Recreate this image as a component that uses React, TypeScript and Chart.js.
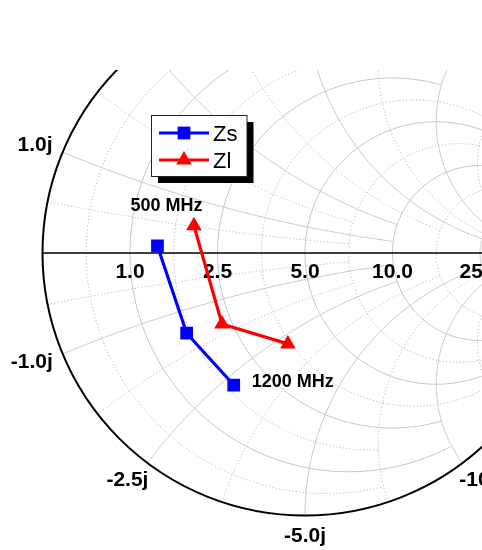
import React, { useEffect, useRef } from 'react';
import { Chart, registerables } from 'chart.js';

Chart.register(...registerables);

// ---------- data ----------
const Z0 = 5;
const resistanceTicks = [1, 2.5, 5, 10, 25];
const resistanceTickLabels = ['1.0', '2.5', '5.0', '10.0', '25.0'];
const reactanceTicks = [1, 2.5, 5, 10, 25];
const reactanceTickLabelsPos = ['1.0j', '2.5j', '5.0j', '10.0j', '25.0j'];
const reactanceTickLabelsNeg = ['-1.0j', '-2.5j', '-5.0j', '-10.0j', '-25.0j'];

const seriesNames = ['Zs', 'Zl'];
const frequenciesMHz = [500, 850, 1200];
const zsReal = [1.4, 1.6, 1.8];
const zsImag = [0.11, -1.39, -2.69];
const zlReal = [1.99, 2.29, 3.49];
const zlImag = [0.51, -1.5, -2.76];

const annotationTexts = ['500 MHz', '1200 MHz'];
const annotationSeries = [1, 0];
const annotationPoint = [0, 2];

// ---------- helpers ----------
const gammaN = (r: number, x: number) => {
  const d = (r + 1) * (r + 1) + x * x;
  return { x: (r * r - 1 + x * x) / d, y: (2 * x) / d };
};
const gammaZ = (R: number, X: number) => gammaN(R / Z0, X / Z0);

// Γ-plane midpoints between ticks (minor grid)
const rFromG = (g: number) => (1 + g) / (1 - g);
const majorN = resistanceTicks.map((v) => v / Z0);
const gAxis = [-1, ...majorN.map((r) => (r - 1) / (r + 1)), 1];
const minorR: number[] = [];
for (let i = 0; i < gAxis.length - 1; i++) minorR.push(rFromG((gAxis[i] + gAxis[i + 1]) / 2));
const atMaj = [0, ...reactanceTicks.map((v) => Math.atan(v / Z0)), Math.PI / 2];
const minorX: number[] = [];
for (let i = 0; i < atMaj.length - 1; i++) minorX.push(Math.tan((atMaj[i] + atMaj[i + 1]) / 2));

const INF = Infinity;
const majorRLimit = [2, 2, INF, INF, INF];
const majorXLimit = [2, 2, INF, INF, INF];
const minorRLimit = [minorX[3], minorX[3], minorX[4], INF, INF, INF];
const minorXLimit = [minorR[3], minorR[3], minorR[4], INF, INF, INF];

const FONT = "'Liberation Sans', Arial, Helvetica, sans-serif";
const CX = 305;
const CY = 253;
const RAD = 262.5;
const W = 482;
const H = 550;
const TOP = 70;

function buildPoints(re: number[], im: number[]) {
  return re.map((r, i) => {
    const g = gammaZ(r, im[i]);
    return { x: g.x, y: g.y };
  });
}

const smithPlugin = {
  id: 'smithGrid',
  beforeDatasetsDraw(chart: any) {
    const ctx = chart.ctx as CanvasRenderingContext2D;
    const xs = chart.scales.x;
    const ys = chart.scales.y;
    const px = (g: { x: number; y: number }) => [xs.getPixelForValue(g.x), ys.getPixelForValue(g.y)];
    const N = 360;
    const strokePts = (pts: { x: number; y: number }[]) => {
      ctx.beginPath();
      pts.forEach((p, i) => {
        const [a, b] = px(p);
        if (i === 0) ctx.moveTo(a, b);
        else ctx.lineTo(a, b);
      });
      ctx.stroke();
    };
    const rLine = (r: number, xm: number) => {
      const c = r / (1 + r);
      const rho = 1 / (1 + r);
      let p1 = 0.0005;
      if (isFinite(xm)) {
        const g = gammaN(r, xm);
        p1 = Math.atan2(g.y, g.x - c);
      }
      const p2 = 2 * Math.PI - p1;
      const pts = [];
      for (let i = 0; i <= N; i++) {
        const p = p1 + ((p2 - p1) * i) / N;
        pts.push({ x: c + rho * Math.cos(p), y: rho * Math.sin(p) });
      }
      strokePts(pts);
    };
    const xLine = (x: number, rm: number) => {
      const cy = 1 / x;
      const rho = Math.abs(1 / x);
      const g0 = gammaN(0, x);
      const g1 = isFinite(rm) ? gammaN(rm, x) : { x: 1, y: 0 };
      const a0 = Math.atan2(g0.y - cy, g0.x - 1);
      const a1 = Math.atan2(g1.y - cy, g1.x - 1);
      let d = a1 - a0;
      while (d > Math.PI) d -= 2 * Math.PI;
      while (d <= -Math.PI) d += 2 * Math.PI;
      const pts = [];
      for (let i = 0; i <= N; i++) {
        const a = a0 + (d * i) / N;
        pts.push({ x: 1 + rho * Math.cos(a), y: cy + rho * Math.sin(a) });
      }
      strokePts(pts);
    };

    ctx.save();
    ctx.beginPath();
    ctx.rect(0, TOP, W, H - TOP);
    ctx.clip();

    // minor grid
    ctx.setLineDash([1.2, 2.2]);
    ctx.strokeStyle = '#b8b8b8';
    ctx.lineWidth = 1;
    minorR.forEach((r, i) => rLine(r, minorRLimit[i]));
    minorX.forEach((x, i) => {
      xLine(x, minorXLimit[i]);
      xLine(-x, minorXLimit[i]);
    });

    // major grid
    ctx.setLineDash([]);
    ctx.strokeStyle = '#c4c4c4';
    ctx.lineWidth = 1;
    majorN.forEach((r, i) => rLine(r, majorRLimit[i]));
    reactanceTicks.forEach((X, i) => {
      xLine(X / Z0, majorXLimit[i]);
      xLine(-X / Z0, majorXLimit[i]);
    });

    // outer circle and real axis
    ctx.strokeStyle = '#000';
    ctx.lineWidth = 2;
    const [ox, oy] = px({ x: 0, y: 0 });
    const rr = xs.getPixelForValue(1) - ox;
    ctx.beginPath();
    ctx.arc(ox, oy, rr, 0, Math.PI * 2);
    ctx.stroke();
    ctx.lineWidth = 1.6;
    ctx.beginPath();
    ctx.moveTo(xs.getPixelForValue(-1), oy);
    ctx.lineTo(xs.getPixelForValue(1), oy);
    ctx.stroke();

    // tick labels
    ctx.fillStyle = '#000';
    ctx.font = `bold 21px ${FONT}`;
    ctx.textAlign = 'center';
    ctx.textBaseline = 'alphabetic';
    const cap = 15;
    resistanceTicks.forEach((R, i) => {
      const g = gammaZ(R, 0);
      ctx.fillText(resistanceTickLabels[i], xs.getPixelForValue(g.x), oy + 17 + cap / 2);
    });
    const jLabel = (X: number, text: string) => {
      const g = gammaZ(0, X);
      const dx = g.x;
      const dy = -g.y;
      const ax = ox + dx * (rr + 12.5);
      const ay = oy + dy * (rr + 12.5);
      const w = ctx.measureText(text).width;
      const cx = ax + (dx * w) / 2;
      const cyy = ay + (dy * cap) / 2;
      ctx.fillText(text, cx, cyy + cap / 2 - 1);
    };
    reactanceTicks.forEach((X, i) => {
      jLabel(X, reactanceTickLabelsPos[i]);
      jLabel(-X, reactanceTickLabelsNeg[i]);
    });
    ctx.restore();
  },
  afterDraw(chart: any) {
    const ctx = chart.ctx as CanvasRenderingContext2D;
    ctx.save();
    // annotations
    ctx.fillStyle = '#000';
    ctx.font = `bold 18px ${FONT}`;
    ctx.textBaseline = 'alphabetic';
    annotationTexts.forEach((t, i) => {
      const el = chart.getDatasetMeta(annotationSeries[i]).data[annotationPoint[i]];
      if (!el) return;
      if (i === 0) {
        ctx.textAlign = 'center';
        ctx.fillText(t, el.x - 27.5, el.y - 21.5 + 6.5);
      } else {
        ctx.textAlign = 'left';
        ctx.fillText(t, el.x + 18, el.y - 5 + 6.5);
      }
    });

    // legend
    const lx = 151.5;
    const ly = 115.5;
    const lw = 95.5;
    const lh = 61;
    ctx.fillStyle = '#000';
    ctx.fillRect(lx + 6.5, ly + 6.5, lw, lh);
    ctx.fillStyle = '#fff';
    ctx.fillRect(lx, ly, lw, lh);
    ctx.strokeStyle = '#222';
    ctx.lineWidth = 1;
    ctx.strokeRect(lx, ly, lw, lh);
    chart.data.datasets.forEach((ds: any, i: number) => {
      const y = 133 + i * 27;
      ctx.strokeStyle = ds.borderColor;
      ctx.lineWidth = 3;
      ctx.beginPath();
      ctx.moveTo(159, y);
      ctx.lineTo(209, y);
      ctx.stroke();
      ctx.fillStyle = ds.backgroundColor;
      const mx = 184;
      if (ds.pointStyle === 'rect') {
        const s = 12.7;
        ctx.fillRect(mx - s / 2, y - s / 2, s, s);
      } else {
        const r = 9;
        ctx.beginPath();
        ctx.moveTo(mx, y - r);
        ctx.lineTo(mx + r * 0.866, y + r / 2);
        ctx.lineTo(mx - r * 0.866, y + r / 2);
        ctx.closePath();
        ctx.fill();
      }
      ctx.fillStyle = '#000';
      ctx.font = `22px ${FONT}`;
      ctx.textAlign = 'left';
      ctx.fillText(ds.label, 213, y + 8);
    });
    ctx.restore();
  },
};

export default function App() {
  const ref = useRef<HTMLCanvasElement>(null);
  useEffect(() => {
    const canvas = ref.current;
    if (!canvas) return;
    const chart = new Chart(canvas, {
      type: 'scatter',
      data: {
        datasets: [
          {
            label: seriesNames[0],
            data: buildPoints(zsReal, zsImag),
            showLine: true,
            borderColor: '#0000ff',
            backgroundColor: '#0000ff',
            borderWidth: 3.2,
            pointStyle: 'rect',
            pointRadius: 9,
            pointBorderWidth: 0,
          },
          {
            label: seriesNames[1],
            data: buildPoints(zlReal, zlImag),
            showLine: true,
            borderColor: '#ff0000',
            backgroundColor: '#ff0000',
            borderWidth: 3.2,
            pointStyle: 'triangle',
            pointRadius: 9,
            pointBorderWidth: 0,
          },
        ],
      } as any,
      options: {
        animation: false,
        responsive: false,
        maintainAspectRatio: false,
        events: [],
        layout: {
          autoPadding: false,
          padding: { left: CX - RAD, right: 0, top: TOP, bottom: H - (CY + RAD) },
        },
        scales: {
          x: { type: 'linear', min: -1, max: (W - CX) / RAD, display: false },
          y: { type: 'linear', min: -1, max: (CY - TOP) / RAD, display: false },
        },
        plugins: {
          legend: { display: false },
          tooltip: { enabled: false },
        },
      },
      plugins: [smithPlugin],
    } as any);
    return () => chart.destroy();
  }, []);
  return (
    <div style={{ position: 'fixed', left: 0, top: 0, width: W, height: H }}>
      <canvas ref={ref} width={W} height={H} style={{ width: W, height: H, display: 'block' }} data-freq={frequenciesMHz.join(',')} />
    </div>
  );
}
